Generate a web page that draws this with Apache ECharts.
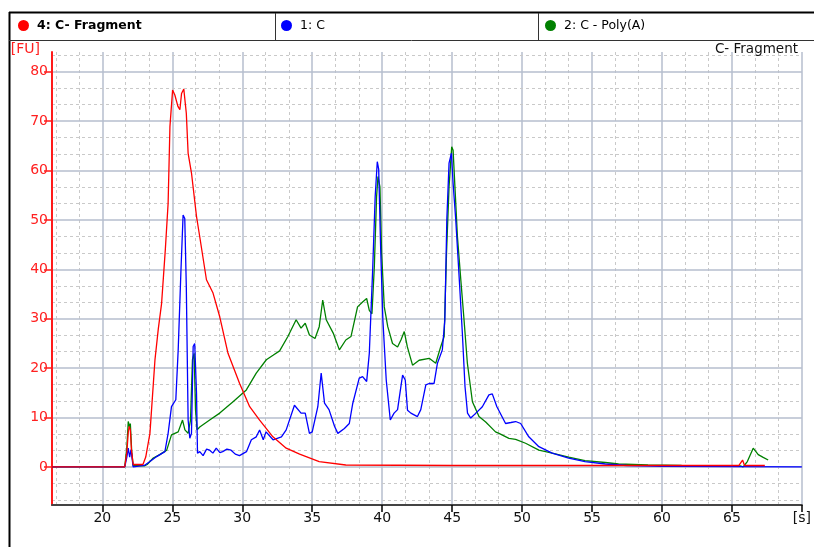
<!DOCTYPE html>
<html>
<head>
<meta charset="utf-8">
<script src="https://cdn.jsdelivr.net/npm/echarts@6/dist/echarts.min.js"></script>
<style>
  html, body { margin: 0; padding: 0; background: #fff; }
  #main { width: 814px; height: 547px; }
</style>
</head>
<body>
<div id="main"></div>
<script>
// 4: C- Fragment (red)
var fragT = [16.4, 21.6, 21.75, 21.85, 21.92, 22.0, 22.08, 22.2, 22.9, 23.1, 23.4, 23.76, 24.0, 24.23, 24.5, 24.7, 24.83, 25.02, 25.18, 25.4, 25.54, 25.66, 25.82, 26.0, 26.13, 26.37, 26.73, 26.96, 27.44, 27.91, 28.39, 28.98, 29.81, 30.53, 31.24, 32.19, 33.14, 34.1, 35.5, 37.4, 45.0, 55.0, 65.5, 65.76, 65.9, 67.35];
var fragV = [0, 0, 3, 7, 8.2, 7.5, 3.5, 0.5, 0.5, 2, 6.8, 21.7, 28, 33, 44, 53.4, 68.9, 76.3, 75.3, 73, 72.3, 75.6, 76.5, 71.6, 63.5, 59.5, 50.7, 46.6, 37.9, 35.2, 30.4, 23.0, 16.9, 12.2, 9.5, 6.1, 3.8, 2.6, 1.1, 0.4, 0.3, 0.3, 0.3, 1.4, 0.3, 0.3];

// 1: C (blue)
var cT = [16.4, 21.6, 21.75, 21.85, 21.95, 22.05, 22.2, 23.0, 23.4, 23.88, 24.47, 24.7, 24.94, 25.25, 25.42, 25.61, 25.77, 25.89, 26.0, 26.13, 26.25, 26.37, 26.49, 26.6, 26.73, 26.8, 26.96, 27.2, 27.45, 27.67, 27.9, 28.14, 28.4, 28.6, 28.9, 29.2, 29.5, 29.8, 30.3, 30.65, 31.0, 31.24, 31.5, 31.7, 32.2, 32.8, 33.14, 33.73, 34.2, 34.5, 34.8, 35.0, 35.4, 35.64, 35.88, 36.2, 36.6, 36.83, 37.3, 37.65, 37.9, 38.36, 38.6, 38.89, 39.08, 39.32, 39.5, 39.65, 39.75, 39.9, 40.05, 40.29, 40.58, 40.85, 41.1, 41.34, 41.46, 41.65, 41.81, 42.05, 42.52, 42.76, 43.12, 43.36, 43.71, 43.95, 44.3, 44.48, 44.62, 44.78, 44.95, 45.07, 45.26, 45.5, 45.73, 45.92, 46.1, 46.33, 46.7, 47.16, 47.63, 47.87, 48.2, 48.82, 49.2, 49.54, 49.9, 50.48, 51.2, 52.15, 53.33, 54.5, 55.95, 57.5, 60.0, 70.0];
var cV = [0, 0, 2, 3.8, 2, 3.5, 0, 0.3, 1.1, 2.1, 3.1, 6.8, 12.2, 13.6, 23.7, 39.2, 51.0, 50.3, 36.5, 9.5, 5.8, 6.8, 24.4, 25, 14.9, 2.8, 3.1, 2.3, 3.6, 3.4, 2.8, 3.8, 2.9, 3.1, 3.6, 3.4, 2.6, 2.3, 3.1, 5.5, 6.1, 7.5, 5.5, 7.1, 5.5, 6.1, 7.5, 12.5, 10.9, 10.9, 6.8, 7.1, 12.2, 19.0, 12.9, 11.6, 8.2, 6.8, 7.8, 8.8, 12.9, 18.0, 18.3, 17.3, 23.0, 39.9, 54.7, 61.8, 60.3, 43.3, 29.8, 17.6, 9.5, 10.9, 11.6, 16.3, 18.6, 17.6, 11.5, 10.9, 10.2, 11.6, 16.6, 16.9, 16.9, 21.0, 23.7, 29.8, 50, 61.5, 63.5, 57.4, 50, 38.5, 27.1, 16.3, 10.9, 9.9, 10.9, 12.2, 14.6, 14.8, 12.2, 8.8, 9.0, 9.2, 8.8, 6.1, 4.1, 2.8, 1.8, 1.1, 0.6, 0.3, 0.1, 0];

// 2: C - Poly(A) (green)
var pT = [16.4, 21.6, 21.75, 21.85, 21.95, 22.0, 22.1, 22.2, 23.0, 23.2, 23.64, 24.1, 24.6, 24.94, 25.42, 25.73, 25.9, 26.13, 26.3, 26.44, 26.56, 26.66, 26.77, 26.96, 27.67, 28.39, 29.34, 30.29, 31.0, 31.72, 32.2, 32.67, 33.26, 33.85, 34.2, 34.5, 34.8, 35.2, 35.5, 35.75, 36.0, 36.5, 36.94, 37.4, 37.77, 38.24, 38.6, 38.89, 39.08, 39.27, 39.44, 39.6, 39.7, 39.84, 39.96, 40.15, 40.4, 40.74, 41.1, 41.34, 41.58, 41.8, 42.17, 42.64, 43.36, 43.83, 44.19, 44.43, 44.6, 44.78, 44.97, 45.07, 45.2, 45.38, 45.62, 45.85, 46.09, 46.45, 46.92, 47.4, 48.1, 48.35, 49.06, 49.54, 50.25, 51.2, 52.15, 53.33, 54.5, 55.95, 56.9, 59.0, 61.4, 65.6, 65.8, 66.1, 66.52, 66.88, 67.2, 67.59];
var pV = [0, 0, 4, 9.2, 8.0, 8.8, 3, 0.3, 0.2, 0.5, 1.8, 2.5, 3.4, 6.5, 7.1, 9.5, 7.5, 6.8, 9.5, 21.7, 23, 11.5, 7.5, 8.1, 9.5, 10.9, 13.2, 15.6, 19.0, 21.7, 22.6, 23.5, 26.4, 29.8, 28.1, 29.1, 26.7, 26.0, 28.4, 33.8, 29.8, 27.1, 23.7, 25.7, 26.4, 32.4, 33.4, 34.1, 31.7, 31.0, 40.6, 54.7, 58.8, 56.7, 43.3, 32.4, 28.4, 25.0, 24.3, 25.7, 27.4, 24.3, 20.6, 21.6, 22.0, 21.0, 24.4, 26.4, 43.3, 56.7, 64.8, 64.1, 56.7, 46.6, 37.9, 29.8, 21.0, 13.2, 10.2, 9.1, 7.1, 6.8, 5.8, 5.6, 4.8, 3.4, 2.8, 2.0, 1.3, 0.9, 0.6, 0.4, 0.3, 0.2, 0.0, 1.1, 3.8, 2.5, 2.0, 1.4];

var xTicks = [20, 25, 30, 35, 40, 45, 50, 55, 60, 65, 70];
var yTicks = [0, 10, 20, 30, 40, 50, 60, 70, 80];

function pairs(t, v) {
  var out = [];
  for (var i = 0; i < t.length; i++) out.push([t[i], v[i]]);
  return out;
}

// grid lines: solid at major ticks, dashed at thirds in between
var majorStyle = { color: '#b6bece', width: 1.5, type: 'solid' };
var minorStyle = { color: '#c9c9c9', width: 1, type: [3, 3] };
function gridLines(key, lo, hi, step) {
  var out = [];
  for (var v = Math.floor(lo / step) * step; v <= hi + 1e-6; v += step) {
    [0, 1, 2].forEach(function (k) {
      var val = v + k * step / 3;
      if (val <= lo + 0.1 || val > hi + 1e-6) return;
      var item = { lineStyle: k === 0 ? majorStyle : minorStyle };
      item[key] = val;
      out.push(item);
    });
  }
  return out;
}

var chart = echarts.init(document.getElementById('main'));

var option = {
  backgroundColor: '#fff',
  animation: false,
  title: {
    text: 'C- Fragment',
    right: 16,
    top: 42,
    padding: 0,
    textStyle: { fontFamily: 'DejaVu Sans', fontSize: 13.5, fontWeight: 'normal', color: '#111' }
  },
  legend: [
    { data: ['4: C- Fragment'], left: 18, top: 19, padding: 0, icon: 'circle', itemWidth: 11, itemHeight: 11,
      textStyle: { fontFamily: 'DejaVu Sans', fontSize: 12.5, fontWeight: 'bold', color: '#000', padding: [0, 0, 0, 3] } },
    { data: ['1: C'], left: 281, top: 19, padding: 0, icon: 'circle', itemWidth: 11, itemHeight: 11,
      textStyle: { fontFamily: 'DejaVu Sans', fontSize: 12.5, color: '#000', padding: [0, 0, 0, 3] } },
    { data: ['2: C - Poly(A)'], left: 545, top: 19, padding: 0, icon: 'circle', itemWidth: 11, itemHeight: 11,
      textStyle: { fontFamily: 'DejaVu Sans', fontSize: 12.5, color: '#000', padding: [0, 0, 0, 3] } }
  ],
  grid: { left: 52, right: 10, top: 52, bottom: 42, containLabel: false },
  xAxis: {
    type: 'value',
    min: 16.4,
    max: 70,
    minInterval: 5,
    maxInterval: 5,
    z: 3,
    axisLine: { onZero: false, lineStyle: { color: '#444', width: 2 } },
    axisTick: { length: 7, customValues: xTicks, lineStyle: { color: '#000', width: 1.5 } },
    axisLabel: {
      customValues: xTicks,
      showMinLabel: true,
      showMaxLabel: true,
      margin: 6,
      color: '#111',
      fontFamily: 'DejaVu Sans',
      fontSize: 14,
      formatter: function (v) { return v === 70 ? '[s]' : String(v); }
    },
    splitLine: { show: false }
  },
  yAxis: {
    type: 'value',
    min: -7.7,
    max: 84,
    minInterval: 10,
    maxInterval: 10,
    z: 3,
    name: '[FU]',
    nameLocation: 'end',
    nameGap: 3,
    nameTextStyle: { color: '#ff2020', fontFamily: 'DejaVu Sans', fontSize: 14, align: 'right', verticalAlign: 'middle', padding: [0, 12, 0, 0] },
    axisLine: { onZero: false, lineStyle: { color: '#ff1a1a', width: 2 } },
    axisTick: { length: 8, customValues: yTicks, lineStyle: { color: '#ff1a1a', width: 1.5 } },
    axisLabel: {
      customValues: yTicks,
      showMinLabel: true,
      showMaxLabel: true,
      margin: 4,
      color: '#ff2020',
      fontFamily: 'DejaVu Sans',
      fontSize: 14
    },
    splitLine: { show: false }
  },
  series: [
    {
      name: 'grid',
      type: 'line',
      data: [[16.4, 0]],
      symbol: 'none',
      lineStyle: { opacity: 0 },
      silent: true,
      markLine: {
        z: 1,
        silent: true,
        symbol: ['none', 'none'],
        label: { show: false },
        emphasis: { disabled: true },
        data: gridLines('xAxis', 16.4, 70, 5).concat(gridLines('yAxis', -7.7, 84, 10))
      }
    },
    {
      name: '2: C - Poly(A)',
      type: 'line',
      data: pairs(pT, pV),
      symbol: 'none',
      color: '#008000',
      lineStyle: { width: 1.3, color: '#008000' }
    },
    {
      name: '1: C',
      type: 'line',
      data: pairs(cT, cV),
      symbol: 'none',
      color: '#0000ff',
      lineStyle: { width: 1.3, color: '#0000ff' }
    },
    {
      name: '4: C- Fragment',
      type: 'line',
      data: pairs(fragT, fragV),
      symbol: 'none',
      color: '#ff0000',
      lineStyle: { width: 1.3, color: '#ff0000' }
    }
  ],
  graphic: [
    { type: 'line', shape: { x1: 9.5, y1: 12, x2: 9.5, y2: 547 }, style: { stroke: '#000', lineWidth: 2 } },
    { type: 'line', shape: { x1: 9, y1: 12.5, x2: 814, y2: 12.5 }, style: { stroke: '#000', lineWidth: 2 } },
    { type: 'line', shape: { x1: 9, y1: 40.5, x2: 814, y2: 40.5 }, style: { stroke: '#333', lineWidth: 1 } },
    { type: 'line', shape: { x1: 275.5, y1: 13, x2: 275.5, y2: 40 }, style: { stroke: '#333', lineWidth: 1 } },
    { type: 'line', shape: { x1: 538.5, y1: 13, x2: 538.5, y2: 40 }, style: { stroke: '#333', lineWidth: 1 } }
  ]
};

chart.setOption(option);
</script>
</body>
</html>
